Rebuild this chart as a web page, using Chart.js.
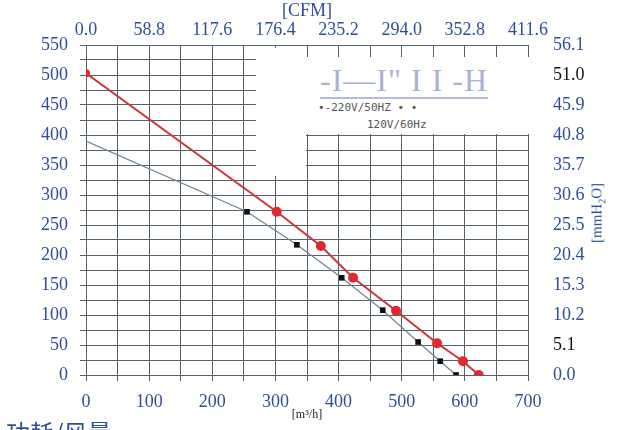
<!DOCTYPE html>
<html>
<head>
<meta charset="utf-8">
<script src="https://cdn.jsdelivr.net/npm/chart.js@4/dist/chart.umd.min.js"></script>
<style>
  body { margin: 0; background: #fff; }
  #wrap { position: relative; width: 620px; height: 430px; overflow: hidden; }
  .patch { position: absolute; background: #fff; }
  .legend-big { position: absolute; left: 320px; top: 64px; font: 32px "Liberation Serif", serif; color: #aab2d2; letter-spacing: 1px; border-bottom: 2px solid #b4bcd8; line-height: 33px; }
  .legend-small { position: absolute; font: 11px "DejaVu Sans Mono", monospace; color: #555; }
  .bottom-cn { position: absolute; left: 6px; top: 414px; font: 24px "Noto Sans CJK SC", sans-serif; color: #2e4f98; }
  .unit-right { position: absolute; left: 598px; top: 213px; transform: translate(-50%, -50%) rotate(-90deg); font: 15px "Liberation Serif", serif; color: #2e4f98; white-space: nowrap; }
</style>
</head>
<body>
<div id="wrap">
  <canvas id="fanChart" width="620" height="430"></canvas>
  <!-- white patches of the scan / legend box -->
  <div class="patch" style="left:256px; top:48px; width:50px; height:128px;"></div>
  <div class="patch" style="left:305px; top:57px; width:227px; height:77px;"></div>
  <div class="legend-big">-I—I" I I -H</div>
  <div class="legend-small" style="left:318px; top:101px;">•-220V/50HZ • •</div>
  <div class="legend-small" style="left:367px; top:118px;">120V/60Hz</div>
  <div class="unit-right">[mmH<sub style="font-size:10px">2</sub>O]</div>
  <div class="bottom-cn">功耗/风量</div>
</div>
<script>
// 风量 [m³/h] / 静压 [Pa]
const flowRed = [0, 302, 372, 423, 491, 556, 597, 622];
const pressRed = [503, 272, 215, 162, 107, 53, 23, 0];
const flowBlack = [0, 255, 334, 405, 470, 526, 561, 586];
const pressBlack = [390, 272, 217, 162, 108, 55, 23, 0];

const blue = '#2e4f98';
const serif = '"Liberation Serif", "Times New Roman", serif';

function toPoints(xs, ys) {
    return xs.map((x, i) => ({ x: x, y: ys[i] }));
}

const ctx = document.getElementById('fanChart').getContext('2d');

const fanChart = new Chart(ctx, {
    type: 'line',
    data: {
        datasets: [{
            label: '220V/50HZ',
            data: toPoints(flowRed, pressRed),
            borderColor: '#c8383a',
            backgroundColor: '#e0282e',
            borderWidth: 2,
            pointStyle: 'circle',
            pointRadius: [4, 5, 5, 5, 5, 5, 5, 5],
            pointBorderWidth: 0,
            tension: 0,
            order: 1
        }, {
            label: '120V/60Hz',
            data: toPoints(flowBlack, pressBlack),
            borderColor: '#6f8494',
            backgroundColor: '#111',
            borderWidth: 1.2,
            pointStyle: 'rect',
            pointRadius: [0, 4, 4, 4, 4, 4, 4, 4],
            pointBorderWidth: 0,
            tension: 0,
            order: 2
        }]
    },
    options: {
        responsive: false,
        animation: false,
        layout: { padding: 0 },
        plugins: {
            legend: { display: false },
            tooltip: { enabled: false }
        },
        scales: {
            x: {
                type: 'linear',
                position: 'bottom',
                min: 0,
                max: 700,
                afterFit: (s) => { s.height = 55; },
                ticks: {
                    stepSize: 50,
                    autoSkip: false,
                    maxRotation: 0,
                    padding: 10,
                    color: blue,
                    font: { family: serif, size: 18 },
                    callback: (v) => v % 100 === 0 ? v : ''
                },
                grid: { color: '#56616c', lineWidth: 1, drawTicks: true, tickLength: 6 },
                border: { display: false },
                title: {
                    display: true,
                    text: '[m³/h]',
                    color: '#222',
                    font: { family: serif, size: 12 },
                    padding: { top: 0, bottom: 8 }
                }
            },
            x2: {
                type: 'linear',
                position: 'top',
                min: 0,
                max: 700,
                afterFit: (s) => { s.height = 45; },
                ticks: {
                    stepSize: 100,
                    autoSkip: false,
                    maxRotation: 0,
                    padding: -4,
                    color: blue,
                    font: { family: serif, size: 18 },
                    callback: (v) => (v * 0.588).toFixed(1)
                },
                grid: { display: false },
                border: { display: false },
                title: {
                    display: true,
                    text: '[CFM]',
                    color: blue,
                    font: { family: serif, size: 18 },
                    padding: { top: 0, bottom: 0 }
                }
            },
            y: {
                type: 'linear',
                position: 'left',
                min: 0,
                max: 550,
                afterFit: (s) => { s.width = 86; },
                ticks: {
                    stepSize: 25,
                    autoSkip: false,
                    padding: 12,
                    color: blue,
                    font: { family: serif, size: 18 },
                    callback: (v) => v % 50 === 0 ? v : ''
                },
                grid: { color: '#56616c', lineWidth: 1, drawTicks: true, tickLength: 6 },
                border: { display: false }
            },
            y2: {
                type: 'linear',
                position: 'right',
                min: 0,
                max: 550,
                afterFit: (s) => { s.width = 92; },
                ticks: {
                    stepSize: 50,
                    autoSkip: false,
                    padding: 17,
                    color: (c) => (c.tick.value === 500 || c.tick.value === 50) ? '#111' : blue,
                    font: { family: serif, size: 18 },
                    callback: (v) => (v * 0.102).toFixed(1)
                },
                grid: { display: false },
                border: { display: false }
            }
        }
    }
});
</script>
</body>
</html>
